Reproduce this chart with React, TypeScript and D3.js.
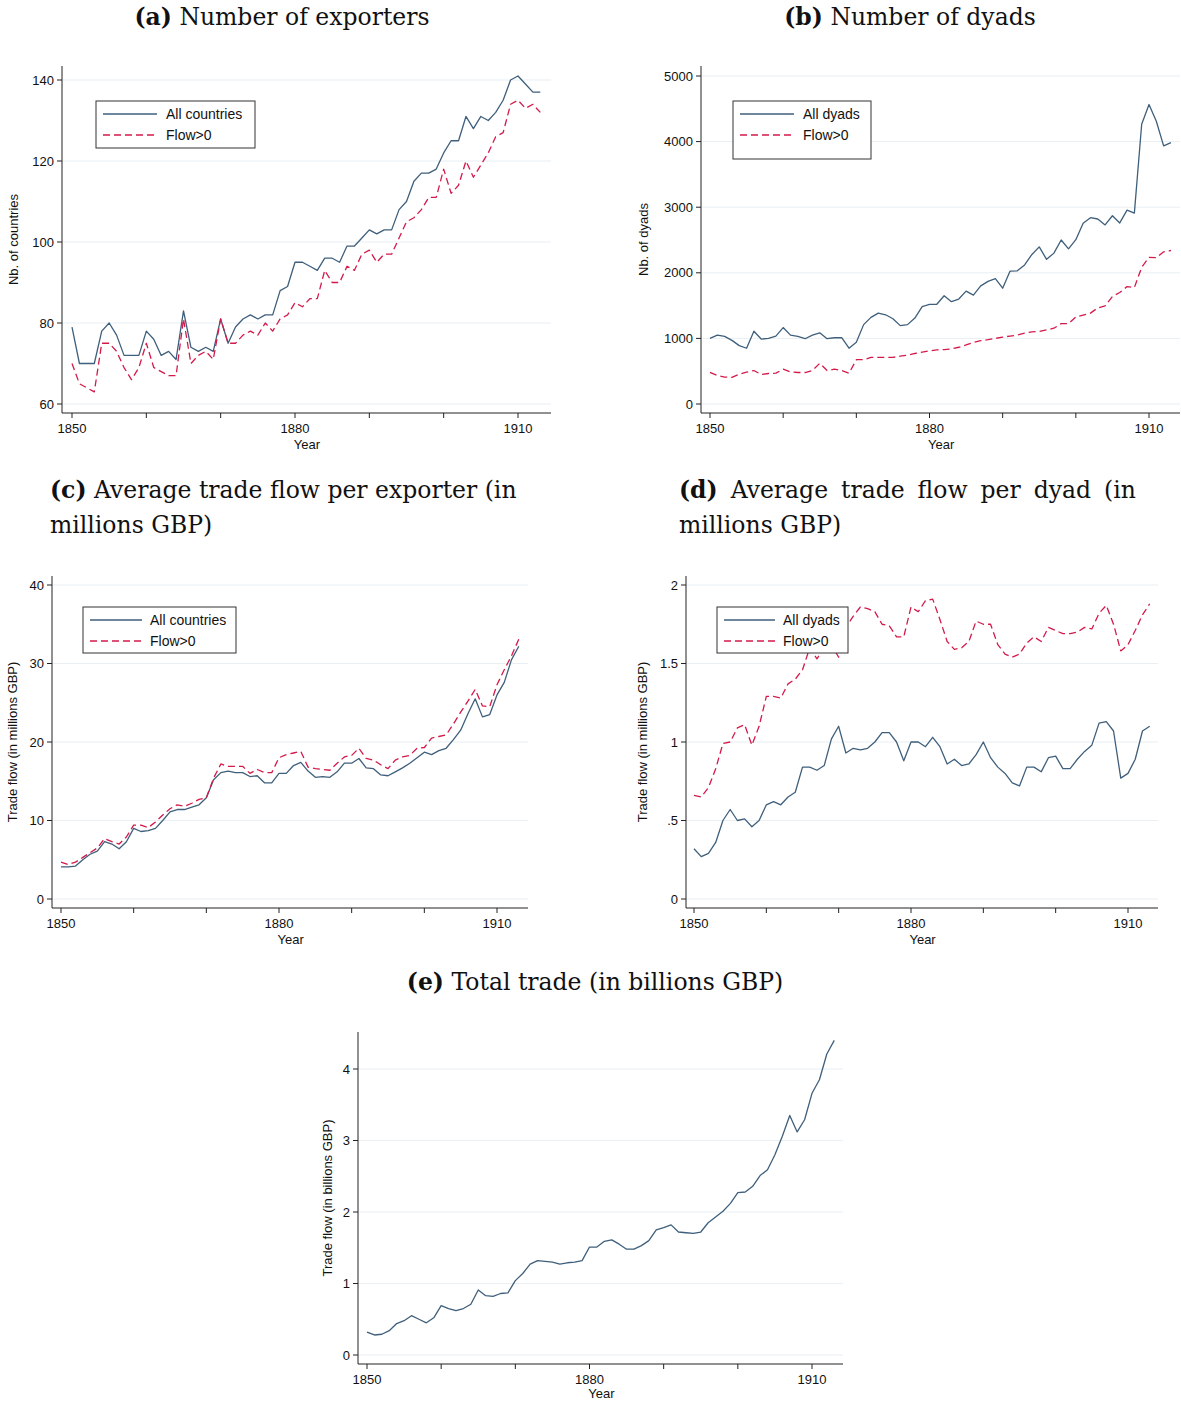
import React from 'react';
import * as d3 from 'd3';

const years = [
  1850, 1851, 1852, 1853, 1854, 1855, 1856, 1857, 1858, 1859,
  1860, 1861, 1862, 1863, 1864, 1865, 1866, 1867, 1868, 1869,
  1870, 1871, 1872, 1873, 1874, 1875, 1876, 1877, 1878, 1879,
  1880, 1881, 1882, 1883, 1884, 1885, 1886, 1887, 1888, 1889,
  1890, 1891, 1892, 1893, 1894, 1895, 1896, 1897, 1898, 1899,
  1900, 1901, 1902, 1903, 1904, 1905, 1906, 1907, 1908, 1909,
  1910, 1911, 1912, 1913,
];

const exportersAll = [
  79, 70, 70, 70, 78, 80, 77, 72, 72, 72,
  78, 76, 72, 73, 71, 83, 74, 73, 74, 73,
  81, 75, 79, 81, 82, 81, 82, 82, 88, 89,
  95, 95, 94, 93, 96, 96, 95, 99, 99, 101,
  103, 102, 103, 103, 108, 110, 115, 117, 117, 118,
  122, 125, 125, 131, 128, 131, 130, 132, 135, 140,
  141, 139, 137, 137,
];
const exportersFlow = [
  70, 65, 64, 63, 75, 75, 73, 69, 66, 69,
  75, 69, 68, 67, 67, 81, 70, 72, 73, 71,
  81, 75, 75, 77, 78, 77, 80, 78, 81, 82,
  85, 84, 86, 86, 93, 90, 90, 94, 93, 97,
  98, 95, 97, 97, 101, 105, 106, 108, 111, 111,
  118, 112, 114, 120, 116, 119, 122, 126, 127, 134,
  135, 133, 134, 132,
];
const dyadsAll = [
  1000, 1050, 1030, 970, 890, 850, 1110, 990, 1000, 1035,
  1165, 1050, 1030, 995, 1050, 1085, 995, 1010, 1010, 850,
  940, 1210, 1320, 1385, 1360, 1300, 1195, 1210, 1310, 1485,
  1520, 1520, 1650, 1560, 1600, 1720, 1660, 1800, 1870, 1910,
  1765, 2025, 2030, 2120, 2280, 2395, 2205, 2300, 2500, 2365,
  2505, 2755, 2840, 2820, 2730, 2870, 2760, 2955, 2910, 4265,
  4565, 4310, 3935, 3985,
];
const dyadsFlow = [
  482, 436, 410, 405, 455, 485, 510, 450, 465, 470,
  530, 490, 480, 480, 510, 620, 510, 530, 510, 470,
  675, 675, 710, 710, 710, 710, 730, 745, 770, 790,
  810, 825, 830, 840, 865, 900, 940, 965, 980, 1000,
  1020, 1035, 1050, 1080, 1100, 1105, 1130, 1155, 1225, 1225,
  1325, 1355, 1385, 1465, 1495, 1640, 1700, 1790, 1775, 2085,
  2235, 2230, 2320, 2340,
];
const flowPerExporterAll = [
  4.1, 4.1, 4.2, 5.0, 5.7, 6.1, 7.3, 7.0, 6.4, 7.3,
  9.0, 8.6, 8.7, 9.0, 10.0, 11.1, 11.4, 11.4, 11.7, 12.0,
  12.9, 15.2, 16.1, 16.3, 16.1, 16.1, 15.6, 15.7, 14.8, 14.8,
  16.0, 16.0, 17.0, 17.4, 16.3, 15.5, 15.6, 15.5, 16.2, 17.3,
  17.3, 17.9, 16.7, 16.6, 15.8, 15.7, 16.2, 16.7, 17.3, 18.0,
  18.7, 18.4, 18.9, 19.2, 20.3, 21.5, 23.6, 25.5, 23.2, 23.5,
  26.0, 27.6, 30.5, 32.2,
];
const flowPerExporterFlow = [
  4.7, 4.4, 4.7, 5.3, 5.9, 6.5, 7.7, 7.3, 7.0, 7.9,
  9.4, 9.4, 9.1, 9.8, 10.7, 11.5, 12.0, 11.8, 12.2, 12.7,
  12.9, 15.4, 17.2, 16.9, 16.9, 16.9, 16.0, 16.5, 16.1, 16.1,
  18.0, 18.4, 18.6, 18.8, 16.8, 16.6, 16.5, 16.4, 17.3, 18.1,
  18.3, 19.2, 17.9, 17.7, 17.1, 16.6, 17.7, 18.1, 18.3, 19.2,
  19.3, 20.5, 20.7, 20.9, 22.3, 23.8, 25.2, 26.7, 24.6, 24.5,
  27.3, 29.2, 31.0, 33.1,
];
const flowPerDyadAll = [
  0.32, 0.27, 0.29, 0.36, 0.50, 0.57, 0.50, 0.51, 0.46, 0.50,
  0.60, 0.62, 0.60, 0.65, 0.68, 0.84, 0.84, 0.82, 0.85, 1.02,
  1.10, 0.93, 0.96, 0.95, 0.96, 1.00, 1.06, 1.06, 1.00, 0.88,
  1.00, 1.00, 0.97, 1.03, 0.97, 0.86, 0.89, 0.85, 0.86, 0.92,
  1.00, 0.90, 0.84, 0.80, 0.74, 0.72, 0.84, 0.84, 0.81, 0.90,
  0.91, 0.83, 0.83, 0.89, 0.94, 0.98, 1.12, 1.13, 1.07, 0.77,
  0.80, 0.89, 1.07, 1.10,
];
const flowPerDyadFlow = [
  0.66, 0.65, 0.71, 0.83, 0.99, 1.00, 1.09, 1.11, 0.98, 1.10,
  1.29, 1.29, 1.28, 1.37, 1.40, 1.46, 1.60, 1.53, 1.60, 1.62,
  1.54, 1.73, 1.80, 1.86, 1.85, 1.83, 1.75, 1.74, 1.67, 1.67,
  1.86, 1.83, 1.90, 1.91, 1.78, 1.64, 1.59, 1.60, 1.64, 1.77,
  1.75, 1.75, 1.62, 1.56, 1.54, 1.56, 1.63, 1.67, 1.64, 1.73,
  1.71, 1.69, 1.69, 1.70, 1.73, 1.72, 1.82, 1.87, 1.75, 1.58,
  1.62, 1.71, 1.81, 1.88,
];
const totalTrade = [
  0.32, 0.28, 0.29, 0.34, 0.44, 0.48, 0.55, 0.50, 0.45, 0.52,
  0.69, 0.65, 0.62, 0.65, 0.71, 0.91, 0.83, 0.82, 0.86, 0.87,
  1.04, 1.14, 1.27, 1.32, 1.31, 1.30, 1.27, 1.29, 1.30, 1.32,
  1.51, 1.51, 1.59, 1.61, 1.55, 1.48, 1.48, 1.53, 1.60, 1.75,
  1.78, 1.82, 1.72, 1.71, 1.70, 1.72, 1.85, 1.93, 2.01, 2.12,
  2.27, 2.28, 2.36, 2.51, 2.59, 2.80, 3.06, 3.35, 3.12, 3.29,
  3.66, 3.85, 4.21, 4.40,
];

const xTicks = [1850, 1860, 1870, 1880, 1890, 1900, 1910];
const xTickLabels = [1850, 1880, 1910];
const ticksA = [60, 80, 100, 120, 140];
const ticksB = [0, 1000, 2000, 3000, 4000, 5000];
const ticksC = [0, 10, 20, 30, 40];
const ticksD = [0, 0.5, 1, 1.5, 2];
const ticksE = [0, 1, 2, 3, 4];

const BLUE = '#3f5f7b';
const RED = '#d31a4b';
const GRID = '#e9eff3';
const SANS = '"Liberation Sans", Arial, Helvetica, sans-serif';
const SERIF = '"DejaVu Serif", "Liberation Serif", serif';

type Series = { values: number[]; color: string; dash?: string; label: string };

type PanelProps = {
  xRange: [number, number];
  yDomain: [number, number];
  yRange: [number, number];
  yTicks: number[];
  yFmt: (v: number) => string;
  axisX: number;
  axisY: number;
  axisTop: number;
  right: number;
  series: Series[];
  legend?: { x: number; y: number; w: number; h: number; lineEnd: number; textDx: number };
  yLabel: string;
  yLabelX: number;
  yearDy?: number;
};

function Panel(p: PanelProps) {
  const x = d3.scaleLinear().domain([1850, 1910]).range(p.xRange);
  const y = d3.scaleLinear().domain(p.yDomain).range(p.yRange);
  const yMid = (p.axisTop + p.axisY) / 2;
  return (
    <g>
      {p.yTicks.map((t) => (
        <line key={'g' + t} x1={p.axisX + 1} x2={p.right} y1={y(t)} y2={y(t)} stroke={GRID} strokeWidth={1} />
      ))}
      {p.series.map((s, k) => {
        const line = d3
          .line<number>()
          .x((_, i) => x(years[i]))
          .y((d) => y(d));
        return (
          <path
            key={'s' + k}
            d={line(s.values) || ''}
            fill="none"
            stroke={s.color}
            strokeWidth={1.3}
            strokeDasharray={s.dash}
            strokeLinejoin="round"
          />
        );
      })}
      <line x1={p.axisX} x2={p.axisX} y1={p.axisTop} y2={p.axisY} stroke="#222" strokeWidth={1} />
      <line x1={p.axisX} x2={p.right} y1={p.axisY} y2={p.axisY} stroke="#222" strokeWidth={1} />
      {p.yTicks.map((t) => (
        <g key={'yt' + t}>
          <line x1={p.axisX - 5} x2={p.axisX} y1={y(t)} y2={y(t)} stroke="#222" />
          <text x={p.axisX - 8} y={y(t)} dy="0.35em" textAnchor="end" fontSize={13} fontFamily={SANS} fill="#111">
            {p.yFmt(t)}
          </text>
        </g>
      ))}
      {xTicks.map((t) => (
        <line key={'xt' + t} x1={x(t)} x2={x(t)} y1={p.axisY} y2={p.axisY + 5} stroke="#222" />
      ))}
      {xTickLabels.map((t) => (
        <text key={'xl' + t} x={x(t)} y={p.axisY + 20} textAnchor="middle" fontSize={13} fontFamily={SANS} fill="#111">
          {t}
        </text>
      ))}
      <text x={x(1881.6)} y={p.axisY + (p.yearDy ?? 36)} textAnchor="middle" fontSize={13} fontFamily={SANS} fill="#111">
        Year
      </text>
      <text
        transform={`translate(${p.yLabelX},${yMid}) rotate(-90)`}
        textAnchor="middle"
        fontSize={13}
        fontFamily={SANS}
        fill="#111"
      >
        {p.yLabel}
      </text>
      {p.legend && (
        <g>
          <rect x={p.legend.x} y={p.legend.y} width={p.legend.w} height={p.legend.h} fill="#fff" stroke="#333" strokeWidth={1} />
          {p.series.map((s, k) => {
            const ry = p.legend!.y + 13 + k * 21;
            return (
              <g key={'lg' + k}>
                <line x1={p.legend!.x + 7} x2={p.legend!.x + p.legend!.lineEnd} y1={ry} y2={ry} stroke={s.color} strokeWidth={1.3} strokeDasharray={s.dash} />
                <text x={p.legend!.x + p.legend!.textDx} y={ry} dy="0.35em" fontSize={14} fontFamily={SANS} fill="#111">
                  {s.label}
                </text>
              </g>
            );
          })}
        </g>
      )}
    </g>
  );
}

const TFS = 23.5;

function Title({ x, y, tag, text }: { x: number; y: number; tag: string; text: string }) {
  return (
    <text x={x} y={y} textAnchor="middle" fontSize={TFS} fontFamily={SERIF} fill="#111">
      <tspan fontWeight="bold">{tag}</tspan>
      {' ' + text}
    </text>
  );
}

const DASH = '7,4';
const fmtInt = (v: number) => String(v);
const fmtD = (v: number) => (v === 0.5 ? '.5' : v === 1.5 ? '1.5' : String(v));

export default function App() {
  return (
    <svg
      width={1181}
      height={1404}
      style={{ display: 'block', position: 'absolute', top: 0, left: 0, background: '#fff' }}
    >
      <Title x={282} y={25} tag="(a)" text="Number of exporters" />
      <Title x={910} y={25} tag="(b)" text="Number of dyads" />
      <text x={50} y={498} fontSize={TFS} fontFamily={SERIF} fill="#111">
        <tspan fontWeight="bold">(c)</tspan> Average trade flow per exporter (in
      </text>
      <text x={50} y={533} fontSize={TFS} fontFamily={SERIF} fill="#111">millions GBP)</text>
      <text x={679} y={498} fontSize={TFS} fontFamily={SERIF} fill="#111" style={{ wordSpacing: 5.5 }}>
        <tspan fontWeight="bold">(d)</tspan> Average trade flow per dyad (in
      </text>
      <text x={679} y={533} fontSize={TFS} fontFamily={SERIF} fill="#111">millions GBP)</text>
      <Title x={595} y={990} tag="(e)" text="Total trade (in billions GBP)" />

      <Panel
        xRange={[72, 518]}
        yDomain={[60, 140]}
        yRange={[404, 80]}
        yTicks={ticksA}
        yFmt={fmtInt}
        axisX={62}
        axisY={413}
        axisTop={66}
        right={551}
        series={[
          { values: exportersAll, color: BLUE, label: 'All countries' },
          { values: exportersFlow, color: RED, dash: DASH, label: 'Flow>0' },
        ]}
        legend={{ x: 96, y: 101, w: 159, h: 47, lineEnd: 61, textDx: 70 }}
        yLabel="Nb. of countries"
        yLabelX={18}
      />
      <Panel
        xRange={[710, 1149]}
        yDomain={[0, 5000]}
        yRange={[404, 76]}
        yTicks={ticksB}
        yFmt={fmtInt}
        axisX={701}
        axisY={413}
        axisTop={66}
        right={1180}
        series={[
          { values: dyadsAll, color: BLUE, label: 'All dyads' },
          { values: dyadsFlow, color: RED, dash: DASH, label: 'Flow>0' },
        ]}
        legend={{ x: 733, y: 101, w: 138, h: 58, lineEnd: 61, textDx: 70 }}
        yLabel="Nb. of dyads"
        yLabelX={648}
      />
      <Panel
        xRange={[61, 497]}
        yDomain={[0, 40]}
        yRange={[899, 585]}
        yTicks={ticksC}
        yFmt={fmtInt}
        axisX={52}
        axisY={908}
        axisTop={576}
        right={528}
        series={[
          { values: flowPerExporterAll, color: BLUE, label: 'All countries' },
          { values: flowPerExporterFlow, color: RED, dash: DASH, label: 'Flow>0' },
        ]}
        legend={{ x: 83, y: 607, w: 153, h: 46, lineEnd: 59, textDx: 67 }}
        yLabel="Trade flow (in millions GBP)"
        yLabelX={17}
      />
      <Panel
        xRange={[694, 1128]}
        yDomain={[0, 2]}
        yRange={[899, 585]}
        yTicks={ticksD}
        yFmt={fmtD}
        axisX={686}
        axisY={908}
        axisTop={576}
        right={1158}
        series={[
          { values: flowPerDyadAll, color: BLUE, label: 'All dyads' },
          { values: flowPerDyadFlow, color: RED, dash: DASH, label: 'Flow>0' },
        ]}
        legend={{ x: 717, y: 607, w: 131, h: 46, lineEnd: 58, textDx: 66 }}
        yLabel="Trade flow (in millions GBP)"
        yLabelX={647}
      />
      <Panel
        xRange={[367, 812]}
        yDomain={[0, 4]}
        yRange={[1355, 1069]}
        yTicks={ticksE}
        yFmt={fmtInt}
        axisX={358}
        axisY={1364}
        axisTop={1032}
        right={843}
        series={[{ values: totalTrade, color: BLUE, label: 'Total' }]}
        yLabel="Trade flow (in billions GBP)"
        yLabelX={332}
        yearDy={34}
      />
    </svg>
  );
}
